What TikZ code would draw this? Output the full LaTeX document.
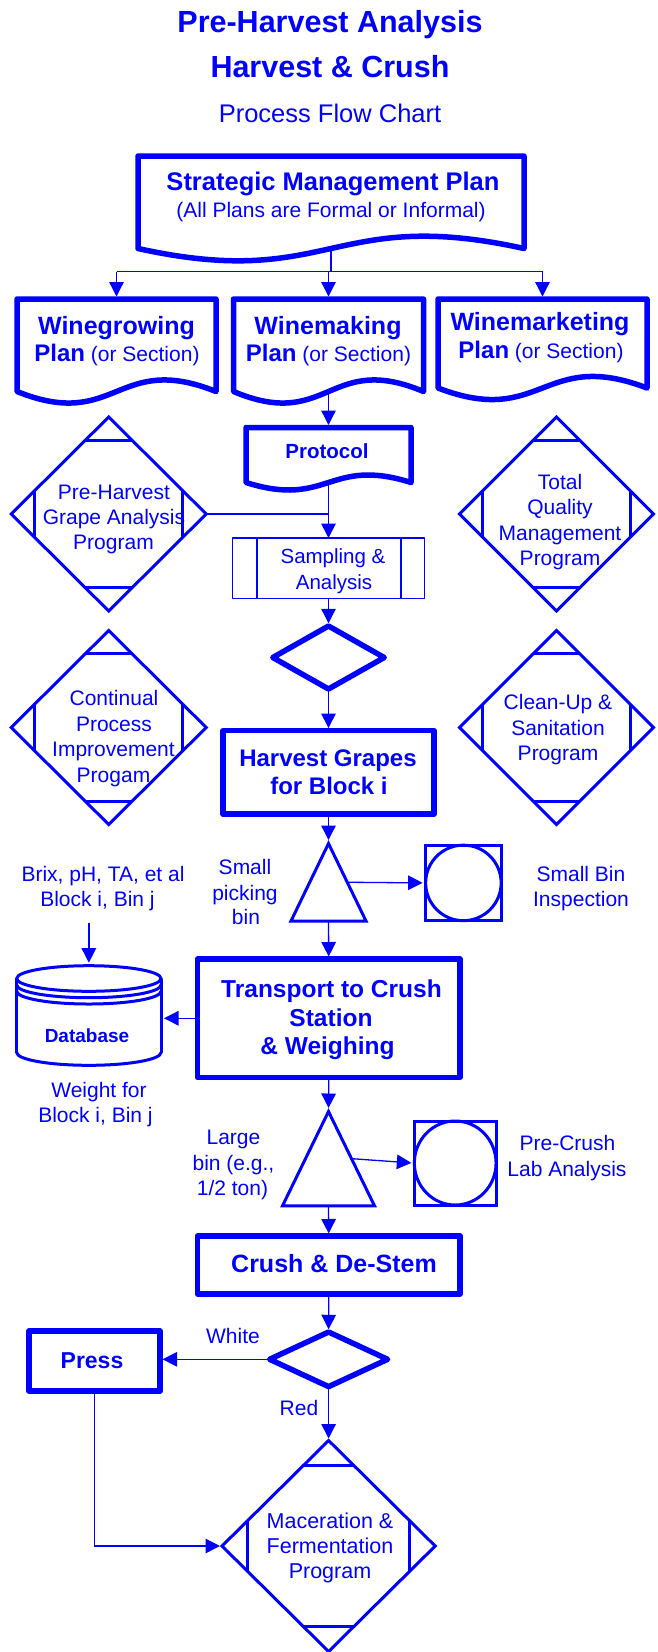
\documentclass[tikz,border=0pt]{standalone}
\usepackage{fontspec}
\setmainfont{Liberation Sans}
\usetikzlibrary{arrows.meta,shapes.geometric}
\definecolor{flowblue}{RGB}{0,0,255}

\newcommand\fsbold[1]{\fontsize{#1}{#1}\selectfont\bfseries}
\newcommand\fsreg[1]{\fontsize{#1}{#1}\selectfont}

\tikzset{
  heavy/.style={draw=flowblue, line width=5.5pt, line join=round},
  medium/.style={draw=flowblue, line width=3pt},
  light/.style={draw=flowblue, line width=1.3pt},
  flow/.style={draw=flowblue, line width=1.3pt, -{Triangle[length=14.5pt,width=14.5pt]}},
  lbl/.style={anchor=base, inner sep=0pt, text=flowblue},
  reg/.style={lbl, font=\fsreg{21}},
  procbox/.style={heavy, rectangle, inner sep=0pt, outer sep=0pt},
}

% document symbol: name, left, right, top, baseline of the wavy edge, wave control
\newcommand\docpath[6]{%
  \draw[heavy] (#2,#5) -- (#2,#4) -- (#3,#4) -- (#3,#5)
    .. controls ({(#2+#3)/2},{#5-#6}) and ({(#2+#3)/2},{#5+#6}) .. (#2,#5) -- cycle;
  \coordinate (#1-n) at ({(#2+#3)/2},#4);
  \coordinate (#1-s) at ({(#2+#3)/2},#5);
}

% program symbol: diamond with its four corners cut off; name, cx, cy, half width, half height
\newcommand\progdiamond[5]{%
  \draw[medium] ({#2-#4},#3) -- (#2,{#3-#5}) -- ({#2+#4},#3) -- (#2,{#3+#5}) -- cycle;
  \draw[medium] ({#2-0.24*#4},{#3-0.76*#5}) -- ({#2+0.24*#4},{#3-0.76*#5});
  \draw[medium] ({#2-0.24*#4},{#3+0.76*#5}) -- ({#2+0.24*#4},{#3+0.76*#5});
  \draw[medium] ({#2-0.76*#4},{#3-0.24*#5}) -- ({#2-0.76*#4},{#3+0.24*#5});
  \draw[medium] ({#2+0.76*#4},{#3-0.24*#5}) -- ({#2+0.76*#4},{#3+0.24*#5});
  \coordinate (#1-n) at (#2,{#3-#5});
  \coordinate (#1-s) at (#2,{#3+#5});
  \coordinate (#1-w) at ({#2-#4},#3);
  \coordinate (#1-e) at ({#2+#4},#3);
}

% decision symbol: name, cx, cy, half width, half height
\newcommand\decision[5]{%
  \draw[heavy] ({#2-#4},#3) -- (#2,{#3-#5}) -- ({#2+#4},#3) -- (#2,{#3+#5}) -- cycle;
  \coordinate (#1-n) at (#2,{#3-#5});
  \coordinate (#1-s) at (#2,{#3+#5});
  \coordinate (#1-w) at ({#2-#4},#3);
  \coordinate (#1-e) at ({#2+#4},#3);
}

% lower half of an ellipse between (left,cy) and (right,cy)
\newcommand\lowarc[4]{%
  \draw[medium] (#1,#3) .. controls (#1,{#3+0.5523*#4}) and ({(#1+#2)/2-0.5523*(#2-#1)/2},{#3+#4})
    .. ({(#1+#2)/2},{#3+#4}) .. controls ({(#1+#2)/2+0.5523*(#2-#1)/2},{#3+#4}) and (#2,{#3+0.5523*#4}) .. (#2,#3);
}

\begin{document}
\begin{tikzpicture}[x=1pt, y=-1pt]
\useasboundingbox (0,0) rectangle (657,1652);

% headings
\node[lbl, font=\fsbold{30.5}] (ttl1) at (330,32) {Pre-Harvest Analysis};
\node[lbl, font=\fsbold{30.5}] (ttl2) at (330,77) {Harvest \& Crush};
\node[lbl, font=\fsreg{25.5}] (ttl3) at (330,122) {Process Flow Chart};

% plans
\docpath{smp}{138}{524}{156}{248.5}{42.6}
\node[lbl, font=\fsbold{25.5}] (smp1) at (333,190) {Strategic Management Plan};
\node[reg] (smp2) at (331,217) {(All Plans are Formal or Informal)};

\docpath{wg}{17}{216}{299}{391.5}{40}
\docpath{wm}{233.5}{423.5}{299}{391.5}{40}
\docpath{wk}{438}{647}{299}{388}{40}
\node[lbl, font=\fsbold{25}] (wg1) at (116.5,334) {Winegrowing};
\node[reg] (wg2) at (117,361) {{\fsbold{24}Plan} (or Section)};
\node[lbl, font=\fsbold{25}] (wm1) at (328,334) {Winemaking};
\node[reg] (wm2) at (328.5,361) {{\fsbold{24}Plan} (or Section)};
\node[lbl, font=\fsbold{25}] (wk1) at (540,330) {Winemarketing};
\node[reg] (wk2) at (541,358) {{\fsbold{24}Plan} (or Section)};

\docpath{proto}{246}{411}{427.5}{482.5}{26}
\node[lbl, font=\fsbold{20.5}] (proto1) at (327,458) {Protocol};

% supporting programs
\progdiamond{ph}{108.7}{514}{97.5}{97}
\node[reg] (ph1) at (114,499) {Pre-Harvest};
\node[reg] (ph2) at (114,524.5) {Grape Analysis};
\node[reg] (ph3) at (113.5,549.5) {Program};

\progdiamond{tqm}{556.5}{514}{97}{97}
\node[reg] (tqm1) at (560,489) {Total};
\node[reg] (tqm2) at (560,514) {Quality};
\node[reg] (tqm3) at (560,540) {Management};
\node[reg] (tqm4) at (560,565) {Program};

\progdiamond{cpi}{108.7}{727.5}{97.5}{97}
\node[reg] (cpi1) at (114,705) {Continual};
\node[reg] (cpi2) at (114,731) {Process};
\node[reg] (cpi3) at (113.5,756) {Improvement};
\node[reg] (cpi4) at (113.5,782) {Progam};

\progdiamond{cu}{556.5}{727.5}{97}{97}
\node[reg] (cu1) at (558,709) {Clean-Up \&};
\node[reg] (cu2) at (558,735) {Sanitation};
\node[reg] (cu3) at (558,760) {Program};

% sampling
\node[procbox, light, minimum width=192pt, minimum height=60.5pt] (samp) at (328.5,568.3) {};
\draw[light] ([xshift=24.5pt]samp.north west) -- ([xshift=24.5pt]samp.south west);
\draw[light] ([xshift=-23.5pt]samp.north east) -- ([xshift=-23.5pt]samp.south east);
\node[lbl, font=\fsreg{20.5}] (samp1) at (333,563) {Sampling \&};
\node[lbl, font=\fsreg{20.5}] (samp2) at (334,589) {Analysis};

\decision{dec1}{328.5}{657.5}{55.7}{31.5}

% harvest
\node[procbox, minimum width=211pt, minimum height=83.5pt] (harvest) at (328.5,772.3) {};
\node[lbl, font=\fsbold{24}] (hg1) at (328,766) {Harvest Grapes};
\node[lbl, font=\fsbold{24}] (hg2) at (329,794) {for Block i};

% small picking bin
\coordinate (tri1-apex) at (328.5,843.5);
\coordinate (tri1-base) at (328.5,921);
\coordinate (tri1-side) at (347.25,882.25);
\draw[medium] (tri1-apex) -- (366,921) -- (291,921) -- cycle;
\node[reg] (sm1) at (245,874) {Small};
\node[reg] (sm2) at (245,900) {picking};
\node[reg] (sm3) at (246,924) {bin};

\node[draw=flowblue, line width=3pt, rectangle, minimum size=75.5pt, inner sep=0pt] (sq1) at (463.4,882.9) {};
\node[draw=flowblue, line width=3pt, circle, minimum size=75.5pt, inner sep=0pt] (sq1c) at (463.4,882.9) {};
\node[reg] (sbi1) at (581,881) {Small Bin};
\node[reg] (sbi2) at (581,906) {Inspection};

\node[reg] (brix1) at (103,881) {Brix, pH, TA, et al};
\node[reg] (brix2) at (97.5,906) {Block i, Bin j};
\coordinate (brix-foot) at (88.85,923);

% database
\node[draw=flowblue, line width=3pt, ellipse, minimum width=144.3pt, minimum height=25.6pt, inner sep=0pt] (dbtop) at (88.85,978.5) {};
\lowarc{16.7}{161}{984.9}{12.8}
\lowarc{16.7}{161}{991.2}{12.8}
\draw[medium] (16.7,978.5) -- (16.7,1052.5);
\draw[medium] (161,978.5) -- (161,1052.5);
\lowarc{16.7}{161}{1052.5}{12.8}
\node[lbl, font=\fsbold{19}] (db1) at (87,1042) {Database};

% transport
\node[procbox, minimum width=262.5pt, minimum height=118.5pt] (transport) at (328.75,1018.25) {};
\node[lbl, font=\fsbold{24.5}] (tr1) at (331.5,997) {Transport to Crush};
\node[lbl, font=\fsbold{24.5}] (tr2) at (331,1026) {Station};
\node[lbl, font=\fsbold{24.5}] (tr3) at (327.5,1054) {\& Weighing};

\node[reg] (wf1) at (99,1097) {Weight for};
\node[reg] (wf2) at (95.5,1122) {Block i, Bin j};

% large bin
\coordinate (tri2-apex) at (328.5,1111.5);
\coordinate (tri2-base) at (328.5,1205.8);
\coordinate (tri2-side) at (351.5,1158.65);
\draw[medium] (tri2-apex) -- (374.5,1205.8) -- (282.5,1205.8) -- cycle;
\node[reg] (lb1) at (233.5,1144) {Large};
\node[reg] (lb2) at (233.5,1170) {bin (e.g.,};
\node[reg] (lb3) at (232.5,1195) {1/2 ton)};

\node[draw=flowblue, line width=3pt, rectangle, minimum width=81.7pt, minimum height=84pt, inner sep=0pt] (sq2) at (455.2,1163) {};
\node[draw=flowblue, line width=3pt, ellipse, minimum width=81.7pt, minimum height=84pt, inner sep=0pt] (sq2c) at (455.2,1163) {};
\node[reg] (pc1) at (567.5,1150) {Pre-Crush};
\node[reg] (pc2) at (567,1176) {Lab Analysis};

% crush, press, fermentation
\node[procbox, minimum width=262.5pt, minimum height=58pt] (crush) at (328.75,1265) {};
\node[lbl, font=\fsbold{25}] (cr1) at (334,1272) {Crush \& De-Stem};

\decision{dec2}{328.6}{1359.3}{59}{27.3}
\node[reg] (white) at (233,1343) {White};
\node[reg] (red) at (299,1415) {Red};

\node[procbox, minimum width=131pt, minimum height=60pt] (press) at (94.5,1361) {};
\node[lbl, font=\fsbold{23}] (pr1) at (92,1368) {Press};

\progdiamond{mac}{328.6}{1546}{106.6}{105.5}
\node[lbl, font=\fsreg{21.5}] (mac1) at (330,1528) {Maceration \&};
\node[lbl, font=\fsreg{21.5}] (mac2) at (330,1553) {Fermentation};
\node[lbl, font=\fsreg{21.5}] (mac3) at (330,1578) {Program};

% connectors
\coordinate (busL) at (116.5,271.5);
\coordinate (busR) at (542.5,271.5);
\draw[light] (busL) -- (busR);
\draw[light] (smp-s) -- (smp-s |- busL);
\draw[flow, shorten >=2.5pt] (wg-n |- busL) -- (wg-n);
\draw[flow, shorten >=2.5pt] (wm-n |- busL) -- (wm-n);
\draw[flow, shorten >=2.5pt] (wk-n |- busL) -- (wk-n);
\draw[flow, shorten >=2.5pt] (wm-s) -- (proto-n);
\draw[flow] (proto-s) -- (samp.north);
\draw[light] (ph-e) -- (ph-e -| proto-s);
\draw[flow, shorten >=2.75pt] (samp.south) -- (dec1-n);
\draw[flow, shorten >=2.5pt] (dec1-s) -- (harvest.north);
\draw[flow, shorten >=3.5pt] (harvest.south) -- (tri1-apex);
\draw[flow, shorten >=1.5pt] (tri1-side) -- (sq1.west);
\draw[flow, shorten >=2.5pt] (tri1-base) -- (transport.north);
\draw[flow, shorten >=1.5pt] (brix-foot) -- (dbtop.north);
\draw[flow, shorten >=1.5pt] (transport.west) -- (transport.west -| dbtop.east);
\draw[flow, shorten >=3.5pt] (transport.south) -- (tri2-apex);
\draw[flow, shorten >=1.5pt] (tri2-side) -- (sq2.west);
\draw[flow, shorten >=2.5pt] (tri2-base) -- (crush.north);
\draw[flow, shorten >=2.75pt] (crush.south) -- (dec2-n);
\draw[flow, shorten >=2.5pt] (dec2-w) -- (dec2-w -| press.east);
\draw[flow, shorten >=2pt] (dec2-s) -- (mac-n);
\draw[flow, shorten >=2pt] (press.south) |- (mac-w);
\end{tikzpicture}
\end{document}
